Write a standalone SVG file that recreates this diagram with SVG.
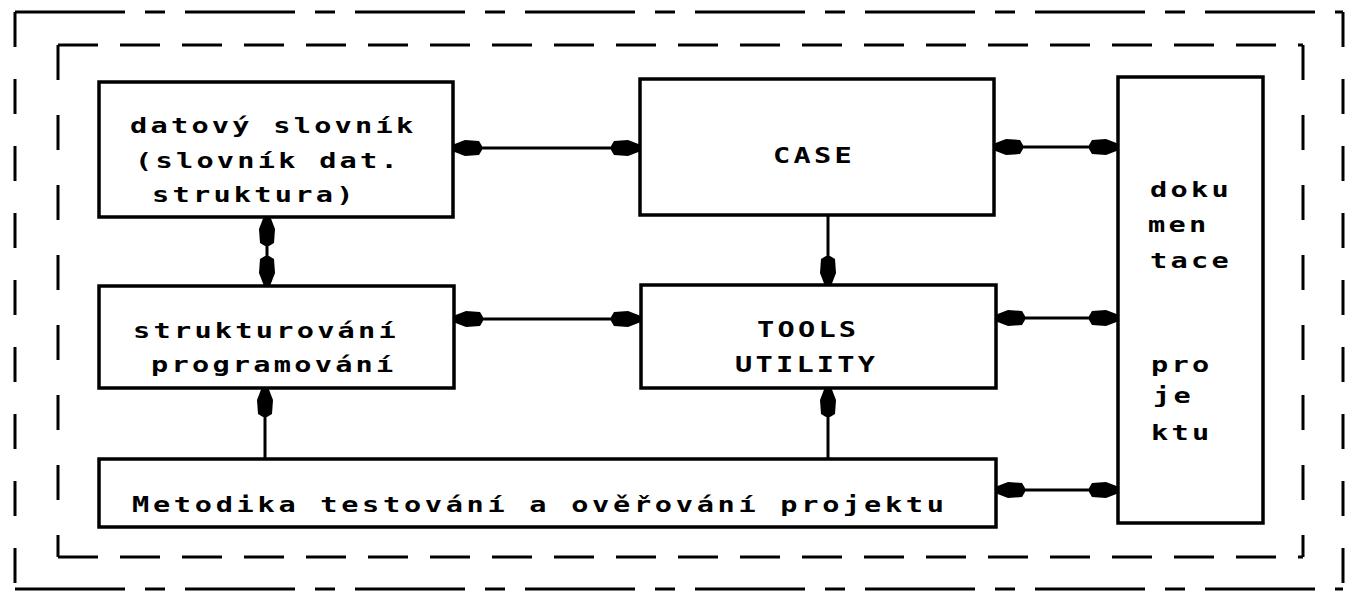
<svg xmlns="http://www.w3.org/2000/svg" width="1349" height="595" viewBox="0 0 1349 595">
  <style>
    .box { fill: #ffffff; stroke: #000000; stroke-width: 3.5; }
    .frame { fill: none; stroke: #000000; stroke-width: 3; }
    .oh { stroke-dasharray: 110 20 20 20; }
    .ov { stroke-dasharray: 35 32; }
    .ih { stroke-dasharray: 40 22; }
    .iv { stroke-dasharray: 35 35; }
    .conn { fill: none; stroke: #000000; stroke-width: 3; }
    .t { font-family: "DejaVu Sans Mono", "Liberation Mono", monospace; font-weight: bold; font-size: 22px; letter-spacing: 2.5px; fill: #000000; }
    .wide { letter-spacing: 2.85px; }
  </style>
  <defs>
    <marker id="ah" viewBox="-31 -10 33 20" refX="0" refY="0" markerWidth="33" markerHeight="20" markerUnits="userSpaceOnUse" orient="auto-start-reverse">
      <path d="M1,-3 L-12,-8 L-26,-7 L-29,-2 L-29,2 L-26,7 L-12,8 L1,3 Z" fill="#000000"/>
    </marker>
  </defs>
  <rect width="1349" height="595" fill="#ffffff"/>

  <g id="outer-frame">
    <path class="frame oh" d="M15,12 H1343"/>
    <path class="frame ov" d="M1343,12 V589"/>
    <path class="frame oh" d="M15,589 H1343"/>
    <path class="frame ov" d="M15,12 V589"/>
  </g>
  <g id="inner-frame">
    <path class="frame ih" d="M58,45 H1303"/>
    <path class="frame iv" d="M1303,45 V557"/>
    <path class="frame ih" d="M58,557 H1303"/>
    <path class="frame iv" d="M58,45 V557"/>
  </g>

  <g id="connectors">
    <line class="conn" x1="453" y1="148" x2="640" y2="148" marker-start="url(#ah)" marker-end="url(#ah)"/>
    <line class="conn" x1="267" y1="217" x2="267" y2="285" marker-start="url(#ah)" marker-end="url(#ah)"/>
    <line class="conn" x1="828" y1="215" x2="828" y2="285" marker-end="url(#ah)"/>
    <line class="conn" x1="454" y1="319" x2="640" y2="319" marker-start="url(#ah)" marker-end="url(#ah)"/>
    <line class="conn" x1="265" y1="459" x2="265" y2="388" marker-end="url(#ah)"/>
    <line class="conn" x1="828" y1="459" x2="828" y2="388" marker-end="url(#ah)"/>
    <line class="conn" x1="994" y1="147" x2="1118" y2="147" marker-start="url(#ah)" marker-end="url(#ah)"/>
    <line class="conn" x1="996" y1="318" x2="1118" y2="318" marker-start="url(#ah)" marker-end="url(#ah)"/>
    <line class="conn" x1="996" y1="490" x2="1118" y2="490" marker-start="url(#ah)" marker-end="url(#ah)"/>
  </g>

  <g id="datovy-slovnik">
    <rect class="box" x="99" y="82" width="354" height="135"/>
    <text class="t" transform="translate(130,133) scale(1.3,1)">datový slovník</text>
    <text class="t" transform="translate(135,168) scale(1.3,1)">(slovník dat.</text>
    <text class="t" transform="translate(152,202) scale(1.3,1)">struktura)</text>
  </g>

  <g id="case">
    <rect class="box" x="640" y="79" width="354" height="136"/>
    <text class="t" transform="translate(773,163) scale(1.3,1)">CASE</text>
  </g>

  <g id="dokumentace">
    <rect class="box" x="1118" y="77" width="145" height="446"/>
    <text class="t" transform="translate(1150,197) scale(1.3,1)">doku</text>
    <text class="t" transform="translate(1148,232) scale(1.3,1)">men</text>
    <text class="t" transform="translate(1150,268) scale(1.3,1)">tace</text>
    <text class="t" transform="translate(1151,372) scale(1.3,1)">pro</text>
    <text class="t" transform="translate(1153,403) scale(1.3,1)">je</text>
    <text class="t" transform="translate(1151,440) scale(1.3,1)">ktu</text>
  </g>

  <g id="strukturovani">
    <rect class="box" x="99" y="286" width="355" height="102"/>
    <text class="t" transform="translate(133,338) scale(1.3,1)">strukturování</text>
    <text class="t" transform="translate(151,372) scale(1.3,1)">programování</text>
  </g>

  <g id="tools-utility">
    <rect class="box" x="641" y="285" width="355" height="103"/>
    <text class="t" transform="translate(757,337) scale(1.3,1)">TOOLS</text>
    <text class="t" transform="translate(735,372) scale(1.3,1)">UTILITY</text>
  </g>

  <g id="metodika">
    <rect class="box" x="99" y="459" width="897" height="68"/>
    <text class="t wide" transform="translate(132,512) scale(1.3,1)">Metodika testování a ověřování projektu</text>
  </g>
</svg>
